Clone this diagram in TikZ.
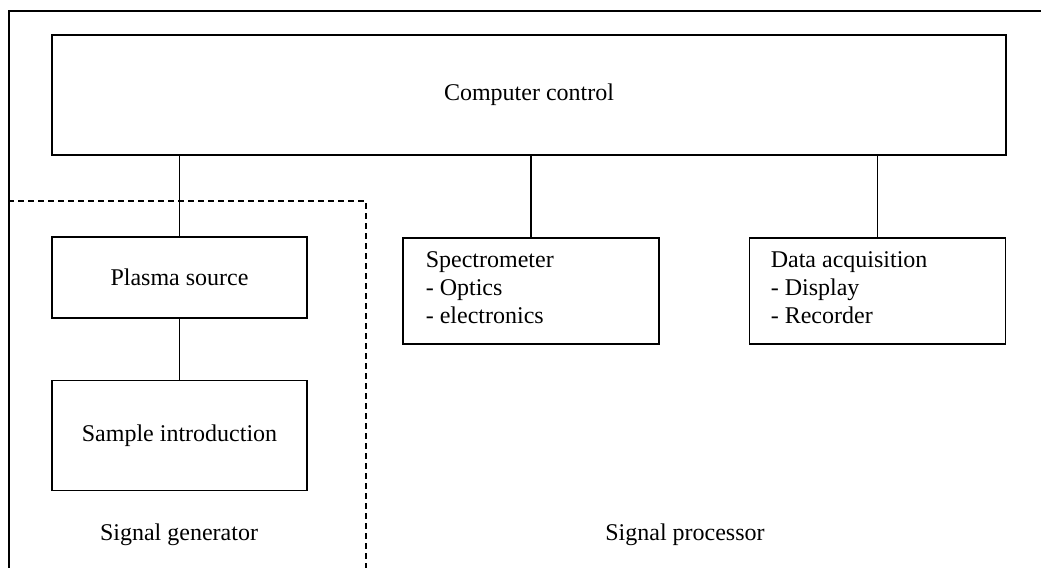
\documentclass[tikz,border=0pt]{standalone}
\usepackage{fontspec}
\setmainfont{Liberation Serif}
\begin{document}
\begin{tikzpicture}[x=0.5pt,y=-0.5pt,line width=0.8pt,
        font=\fontsize{12}{14}\selectfont,
        block/.style={draw,minimum width=#1,inner sep=0pt},
        listbox/.style={draw,minimum width=128pt,minimum height=53pt,inner sep=0pt},
        listtext/.style={align=left,anchor=north west,inner sep=0pt}]
                \useasboundingbox (0,0) rectangle (1041,568);
                \draw (9,568) -- (9,11) -- (1041,11);

                \node[block=477pt,minimum height=60pt] (computer) at (529,95) {Computer control};
                \node[block=127.5pt,minimum height=40.5pt] (plasma) at (179.5,277.5) {Plasma source};
                \node[block=127.5pt,minimum height=55pt] (sample) at (179.5,435.5) {Sample introduction};
                \node[listbox] (spectro) at (531,291) {};
                \node[listbox] (daq) at (877.5,291) {};
                \node[listtext] (spectrotext) at (425,251) {Spectrometer\\- Optics\\- electronics};
                \node[listtext] (daqtext) at (770,251) {Data acquisition\\- Display\\- Recorder};

                \draw (plasma.north) -- (plasma.north |- computer.south);
                \draw (plasma) -- (sample);
                \draw (spectro.north) -- (spectro.north |- computer.south);
                \draw (daq.north) -- (daq.north |- computer.south);

                % dashed border round the generator part
                \draw[dash pattern=on 3pt off 2pt] (8,201) -- (366,201) -- (366,568);
                \node (generator) at (179,535) {Signal generator};
                \node (processor) at (685,535) {Signal processor};
            \end{tikzpicture}
\end{document}
